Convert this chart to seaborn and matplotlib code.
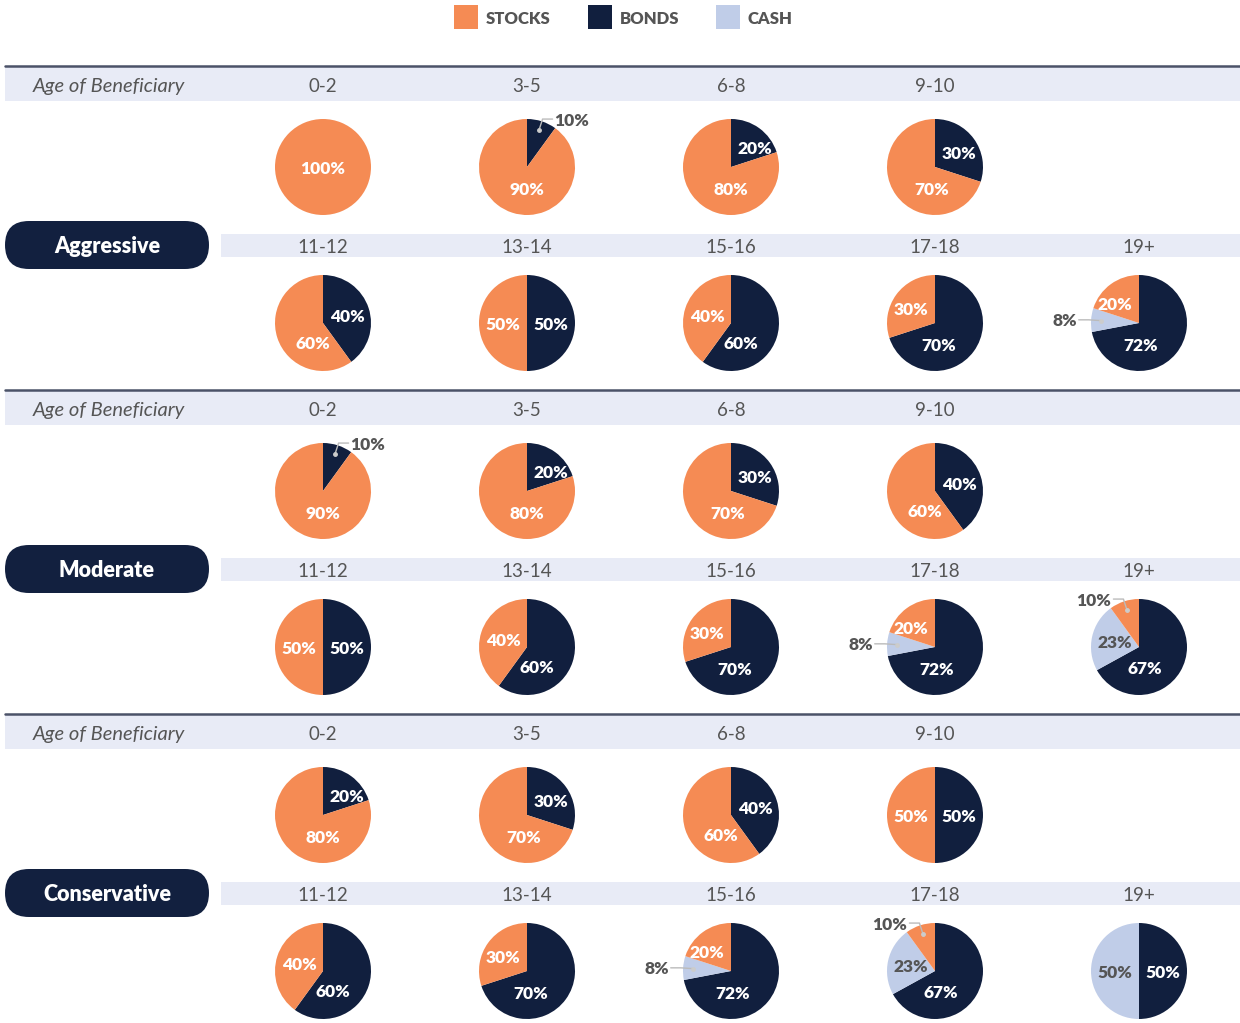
import numpy as np
import matplotlib
matplotlib.use("Agg")
import matplotlib.pyplot as plt
from matplotlib.patches import FancyBboxPatch, Rectangle
import seaborn as sns

# ---- data ----
profiles = ["Aggressive", "Moderate", "Conservative"]
ages_row1 = ["0-2", "3-5", "6-8", "9-10"]
ages_row2 = ["11-12", "13-14", "15-16", "17-18", "19+"]
asset_names = ["STOCKS", "BONDS", "CASH"]

aggressive_stocks = [100, 90, 80, 70, 60, 50, 40, 30, 20]
aggressive_bonds = [0, 10, 20, 30, 40, 50, 60, 70, 72]
aggressive_cash = [0, 0, 0, 0, 0, 0, 0, 0, 8]

moderate_stocks = [90, 80, 70, 60, 50, 40, 30, 20, 10]
moderate_bonds = [10, 20, 30, 40, 50, 60, 70, 72, 67]
moderate_cash = [0, 0, 0, 0, 0, 0, 0, 8, 23]

conservative_stocks = [80, 70, 60, 50, 40, 30, 20, 10, 0]
conservative_bonds = [20, 30, 40, 50, 60, 70, 72, 67, 50]
conservative_cash = [0, 0, 0, 0, 0, 0, 8, 23, 50]

allocations = {
    "Aggressive": (aggressive_stocks, aggressive_bonds, aggressive_cash),
    "Moderate": (moderate_stocks, moderate_bonds, moderate_cash),
    "Conservative": (conservative_stocks, conservative_bonds, conservative_cash),
}

# ---- style ----
sns.set_theme(style="white")
plt.rcParams["font.family"] = ["Lato", "DejaVu Sans"]
palette = sns.color_palette(["#F58B54", "#111F3E", "#C0CDE8"])
c_stock, c_bond, c_cash = palette
NAVY = "#12203F"
BAND = "#E8EBF6"
LINE = "#4B5268"
GREY = "#555555"
PCT_SIZE = 12.5
PCT_WEIGHT = "heavy"

W, H = 1240, 1023
fig = plt.figure(figsize=(W / 100, H / 100), dpi=100)
ax = fig.add_axes([0, 0, 1, 1])


def Y(py):
    # pixel row (from top) -> data y (from bottom)
    return H - py


R = 48
x0, dx = 323, 204
sec_h = 324
TY = 1.5  # small downward nudge for text


def draw_pie(cx, cy, stocks, bonds, cash):
    vals, cols, kinds = [], [], []
    for v, c, k in [(bonds, c_bond, "b"), (cash, c_cash, "c"), (stocks, c_stock, "s")]:
        if v > 0:
            vals.append(v)
            cols.append(c)
            kinds.append(k)
    ax.pie(vals, colors=cols, startangle=90, counterclock=False,
           center=(cx, Y(cy)), radius=R, wedgeprops=dict(linewidth=0))
    if len(vals) == 1:
        ax.text(cx, Y(cy + TY), f"{vals[0]}%", color="white", fontsize=PCT_SIZE,
                fontweight=PCT_WEIGHT, ha="center", va="center")
        return
    start = 90.0
    for v, k in zip(vals, kinds):
        a_start = start
        a_end = start - v * 3.6
        start = a_end
        mid = np.deg2rad((a_start + a_end) / 2)
        if v < 12:
            # small slice: label outside with a leader line
            px, py = cx + 0.8 * R * np.cos(mid), Y(cy) + 0.8 * R * np.sin(mid)
            ex, ey = cx + 1.05 * R * np.cos(mid), Y(cy) + 1.05 * R * np.sin(mid)
            side = 1 if np.cos(mid) >= 0 else -1
            hx = ex + side * 10
            ax.plot([px, ex, hx], [py, ey, ey], color="#BBBBBB", lw=1, zorder=5)
            ax.plot(px, py, "o", color="#CCCCCC", ms=2.5, zorder=6)
            ax.text(hx + side * 2, ey - TY, f"{v}%", color=GREY, fontsize=PCT_SIZE,
                    fontweight=PCT_WEIGHT, ha="left" if side > 0 else "right",
                    va="center", zorder=6)
            continue
        if v > 50:
            lo, hi = max(a_end, -180), min(a_start, 0)
            ang = np.deg2rad((lo + hi) / 2)
            tx = cx + 0.45 * R * np.cos(ang)
            ty = Y(cy) + 0.45 * R * np.sin(ang)
        else:
            side = 1 if np.cos(mid) >= 0 else -1
            tx = cx + side * 0.5 * R
            ty = Y(cy) + 0.5 * R * np.sin(mid)
        tcol = GREY if k == "c" else "white"
        ax.text(tx, ty - TY, f"{v}%", color=tcol, fontsize=PCT_SIZE,
                fontweight=PCT_WEIGHT, ha="center", va="center", zorder=6)


for i, prof in enumerate(profiles):
    s = 66 + sec_h * i
    stocks, bonds, cash = allocations[prof]
    # separator line and bands
    ax.plot([5, W], [Y(s), Y(s)], color=LINE, lw=1.8, zorder=3)
    ax.add_patch(Rectangle((5, Y(s + 35)), W - 5, 34, color=BAND, lw=0, zorder=1))
    ax.add_patch(Rectangle((221, Y(s + 191)), W - 221, 23, color=BAND, lw=0, zorder=1))
    ax.text(33, Y(s + 19 + TY), "Age of Beneficiary", style="italic", color=GREY,
            fontsize=14.5, ha="left", va="center")
    for j, a in enumerate(ages_row1):
        ax.text(x0 + dx * j, Y(s + 19 + TY), a, color=GREY, fontsize=13.5,
                ha="center", va="center")
    for j, a in enumerate(ages_row2):
        ax.text(x0 + dx * j, Y(s + 180 + TY), a, color=GREY, fontsize=13.5,
                ha="center", va="center")
    # profile badge
    ax.add_patch(FancyBboxPatch((5, Y(s + 203)), 204, 48,
                                boxstyle="round,pad=0,rounding_size=24",
                                fc=NAVY, ec="none", zorder=2))
    ax.text(107, Y(s + 179 + TY), prof, color="white", fontsize=15.5,
            fontweight="heavy", ha="center", va="center", zorder=3)
    # pies
    for k in range(len(stocks)):
        if k < 4:
            cx, cy = x0 + dx * k, s + 101
        else:
            cx, cy = x0 + dx * (k - 4), s + 257
        draw_pie(cx, cy, stocks[k], bonds[k], cash[k])

# legend
for name, col, lx in zip(asset_names, palette, [454, 588, 716]):
    ax.add_patch(Rectangle((lx, Y(29)), 24, 24, color=col, lw=0))
    ax.text(lx + 32, Y(18 + TY), name, color=GREY, fontsize=12, fontweight="heavy",
            ha="left", va="center")

ax.set_xlim(0, W)
ax.set_ylim(0, H)
ax.set_aspect("auto")
ax.axis("off")

fig.savefig("out.png", dpi=100)
